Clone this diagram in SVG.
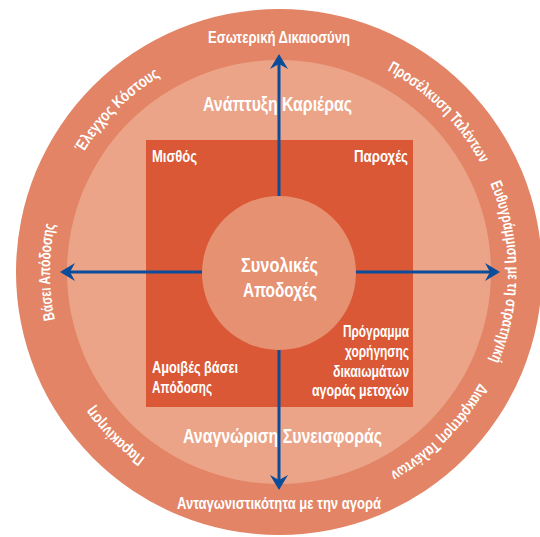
<svg xmlns="http://www.w3.org/2000/svg" xmlns:xlink="http://www.w3.org/1999/xlink" width="540" height="537" viewBox="0 0 540 537">
<style>
text{font-family:"Liberation Sans","DejaVu Sans",sans-serif;fill:#ffffff;font-weight:bold}
.ring{font-size:16px}
.mid{font-size:19.5px}
.sq{font-size:16px}
.ctr{font-size:20.5px}
.arrow{stroke:#0b4d9b;stroke-width:3;fill:none;marker-end:url(#ah)}
</style>
<defs>
<marker id="ah" markerUnits="userSpaceOnUse" viewBox="-16 -10 17 20" markerWidth="17" markerHeight="20" refX="-10" refY="0" orient="auto">
<path d="M0,0 L-15,-9 L-10,0 L-15,9 Z" fill="#0b4d9b"/>
</marker>
<path id="ringPath" d="M 279 43 A 229 229 0 1 1 279 501 A 229 229 0 1 1 279 43"/>
</defs>
<rect width="540" height="537" fill="#ffffff"/>
<g id="outer-ring">
<circle cx="279" cy="272" r="263" fill="#e28465"/>
<text class="ring" x="208" y="43" textLength="142" lengthAdjust="spacingAndGlyphs">Εσωτερική Δικαιοσύνη</text>
<text class="ring" x="177" y="509" textLength="204" lengthAdjust="spacingAndGlyphs">Ανταγωνιστικότητα με την αγορά</text>
<text class="ring" text-anchor="middle"><textPath xlink:href="#ringPath" href="#ringPath" startOffset="12.5%" textLength="134" lengthAdjust="spacingAndGlyphs">Προσέλκυση Ταλέντων</textPath></text>
<text class="ring" text-anchor="middle"><textPath xlink:href="#ringPath" href="#ringPath" startOffset="25%" textLength="182" lengthAdjust="spacingAndGlyphs">Ευθυγράμμιση με τη στρατηγική</textPath></text>
<text class="ring" text-anchor="middle"><textPath xlink:href="#ringPath" href="#ringPath" startOffset="37.5%" textLength="128" lengthAdjust="spacingAndGlyphs">Διακράτηση Ταλέντων</textPath></text>
<text class="ring" text-anchor="middle"><textPath xlink:href="#ringPath" href="#ringPath" startOffset="62.5%" textLength="74" lengthAdjust="spacingAndGlyphs">Παρακίνηση</textPath></text>
<text class="ring" text-anchor="middle"><textPath xlink:href="#ringPath" href="#ringPath" startOffset="75%" textLength="96" lengthAdjust="spacingAndGlyphs">Βάσει Απόδοσης</textPath></text>
<text class="ring" text-anchor="middle"><textPath xlink:href="#ringPath" href="#ringPath" startOffset="87.5%" textLength="110" lengthAdjust="spacingAndGlyphs">Έλεγχος Κόστους</textPath></text>
</g>
<g id="middle-ring">
<circle cx="279" cy="272" r="212" fill="#eba487"/>
<text class="mid" x="203" y="111" textLength="149" lengthAdjust="spacingAndGlyphs">Ανάπτυξη Καριέρας</text>
<text class="mid" x="183" y="443" textLength="199" lengthAdjust="spacingAndGlyphs">Αναγνώριση Συνεισφοράς</text>
</g>
<g id="square">
<rect x="146" y="140" width="267" height="267" fill="#da5835"/>
<text class="sq" x="152" y="162" textLength="45" lengthAdjust="spacingAndGlyphs">Μισθός</text>
<text class="sq" x="408" y="162" text-anchor="end" textLength="54" lengthAdjust="spacingAndGlyphs">Παροχές</text>
<text class="sq" x="152" y="373" textLength="86" lengthAdjust="spacingAndGlyphs">Αμοιβές βάσει</text>
<text class="sq" x="152" y="393" textLength="60" lengthAdjust="spacingAndGlyphs">Απόδοσης</text>
<text class="sq" x="409" y="337" text-anchor="end" textLength="66" lengthAdjust="spacingAndGlyphs">Πρόγραμμα</text>
<text class="sq" x="409" y="357" text-anchor="end" textLength="64" lengthAdjust="spacingAndGlyphs">χορήγησης</text>
<text class="sq" x="409" y="377" text-anchor="end" textLength="76" lengthAdjust="spacingAndGlyphs">δικαιωμάτων</text>
<text class="sq" x="409" y="396" text-anchor="end" textLength="97" lengthAdjust="spacingAndGlyphs">αγοράς μετοχών</text>
</g>
<g id="center">
<circle cx="279" cy="273" r="77" fill="#e69172"/>
<text class="ctr" x="241" y="272" textLength="77" lengthAdjust="spacingAndGlyphs">Συνολικές</text>
<text class="ctr" x="243" y="297" textLength="74" lengthAdjust="spacingAndGlyphs">Αποδοχές</text>
</g>
<g id="connectors">
<line class="arrow" x1="279" y1="196" x2="279" y2="64"/>
<line class="arrow" x1="279" y1="350" x2="279" y2="480"/>
<line class="arrow" x1="202" y1="272" x2="70" y2="272"/>
<line class="arrow" x1="356" y1="272" x2="490" y2="272"/>
</g>
</svg>
